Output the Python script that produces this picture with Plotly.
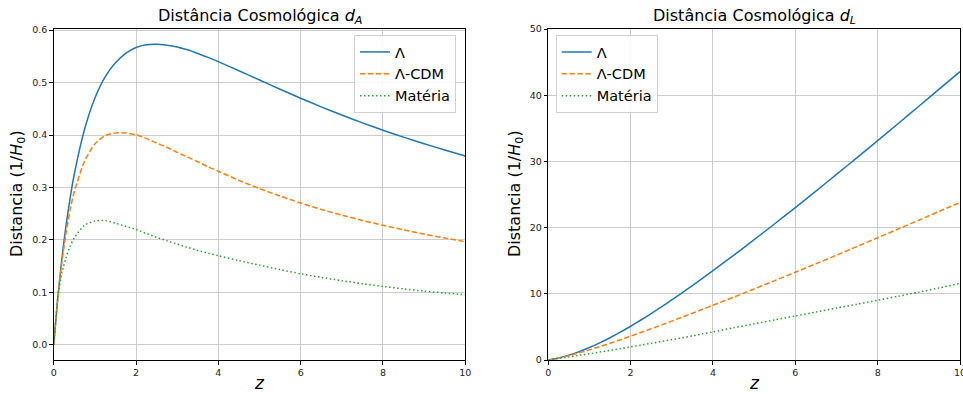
import plotly.graph_objects as go

# ---- data ----
z = [0, 0.1, 0.2, 0.3, 0.4, 0.5, 0.75, 1.0, 1.25, 1.5, 1.75, 2.0, 2.25, 2.5,
     2.75, 3.0, 3.25, 3.5, 3.75, 4.0, 4.5, 5.0, 5.5, 6.0, 6.5, 7.0, 7.5, 8.0,
     8.5, 9.0, 9.5, 10.0]

# angular diameter distance d_A (1/H0)
dA_lambda = [0, 0.0906, 0.1653, 0.2277, 0.2804, 0.3252, 0.411, 0.4702, 0.5108,
             0.5376, 0.5555, 0.5668, 0.5721, 0.5729, 0.5712, 0.5678, 0.5623,
             0.5554, 0.5479, 0.5398, 0.5225, 0.5048, 0.4872, 0.4701, 0.4537,
             0.4380, 0.4232, 0.4091, 0.3959, 0.3834, 0.3715, 0.3600]
dA_lcdm = [0, 0.089, 0.158, 0.213, 0.258, 0.292, 0.350, 0.383, 0.399, 0.404,
           0.404, 0.4004, 0.3936, 0.3847, 0.3766, 0.367, 0.3579, 0.349, 0.3395,
           0.331, 0.3136, 0.298, 0.2837, 0.2704, 0.2583, 0.2474, 0.2373,
           0.2279, 0.2193, 0.2112, 0.2038, 0.1968]
dA_mat = [0, 0.090, 0.138, 0.166, 0.188, 0.204, 0.228, 0.236, 0.237, 0.232,
          0.226, 0.220, 0.2125, 0.205, 0.1985, 0.192, 0.186, 0.180, 0.175,
          0.170, 0.1607, 0.152, 0.1435, 0.1355, 0.1288, 0.1225, 0.1168,
          0.1115, 0.1068, 0.1025, 0.0989, 0.0955]

# luminosity distance d_L (1/H0)
dL_lambda = [0, 0.110, 0.238, 0.385, 0.550, 0.732, 1.259, 1.881, 2.586, 3.36,
             4.20, 5.10, 6.043, 7.02, 8.033, 9.08, 10.156, 11.25, 12.361,
             13.50, 15.81, 18.17, 20.58, 23.03, 25.52, 28.03, 30.57, 33.14,
             35.72, 38.33, 40.95, 43.55]
dL_lcdm = [0, 0.108, 0.228, 0.360, 0.507, 0.657, 1.072, 1.532, 2.02, 2.525,
           3.055, 3.60, 4.157, 4.716, 5.296, 5.872, 6.465, 7.067, 7.660, 8.275,
           9.486, 10.73, 11.99, 13.25, 14.53, 15.83, 17.15, 18.46, 19.79,
           21.12, 22.47, 23.78]
dL_mat = [0, 0.109, 0.199, 0.281, 0.368, 0.459, 0.698, 0.944, 1.20, 1.45,
          1.709, 1.98, 2.245, 2.511, 2.791, 3.072, 3.36, 3.645, 3.948, 4.25,
          4.861, 5.472, 6.063, 6.64, 7.245, 7.84, 8.439, 9.03, 9.639, 10.25,
          10.90, 11.56]

names = ["Λ", "Λ-CDM", "Matéria"]
colors = ["#1f77b4", "#ff7f0e", "#2ca02c"]
dashes = ["solid", "5.5px,2.4px", "1.5px,2.5px"]

W, H = 963, 394
FONT = "DejaVu Sans"

fig = go.Figure()

left_sets = [dA_lambda, dA_lcdm, dA_mat]
right_sets = [dL_lambda, dL_lcdm, dL_mat]
for i in range(3):
    fig.add_trace(go.Scatter(x=z, y=left_sets[i], mode="lines", name=names[i],
                             line=dict(color=colors[i], width=1.5, dash=dashes[i],
                                       shape="spline", smoothing=0.7),
                             xaxis="x", yaxis="y", legend="legend"))
for i in range(3):
    fig.add_trace(go.Scatter(x=z, y=right_sets[i], mode="lines", name=names[i],
                             line=dict(color=colors[i], width=1.5, dash=dashes[i],
                                       shape="spline", smoothing=0.7),
                             xaxis="x2", yaxis="y2", legend="legend2"))

def px(x):
    return x / W

def py(y):
    return 1 - y / H

ydom = [py(360), py(29)]
axis_common = dict(showline=True, mirror=True, linecolor="black", linewidth=1,
                   ticks="outside", ticklen=3.5, tickcolor="black", tickwidth=1,
                   showgrid=True, gridcolor="#cccccc", gridwidth=1.2,
                   zeroline=False, automargin=False, ticklabeloverflow="allow",
                   tickfont=dict(family=FONT, size=9.5, color="#222222"))

legend_common = dict(xanchor="left", yanchor="top",
                     bgcolor="rgba(255,255,255,0.85)", bordercolor="#d0d0d0",
                     borderwidth=1, font=dict(family=FONT, size=14.5, color="black"),
                     itemwidth=30, tracegroupgap=0)

fig.update_layout(
    width=W, height=H,
    margin=dict(l=0, r=0, t=0, b=0),
    paper_bgcolor="white", plot_bgcolor="white",
    font=dict(family=FONT, color="black"),
    xaxis=dict(domain=[px(53.7), px(465.3)], range=[0, 10], dtick=2,
               anchor="y", **axis_common),
    yaxis=dict(domain=ydom, range=[-0.0287, 0.602], dtick=0.1, tickformat=".1f",
               anchor="x", **axis_common),
    xaxis2=dict(domain=[px(548.3), px(960)], range=[0, 10], dtick=2,
                anchor="y2", **axis_common),
    yaxis2=dict(domain=ydom, range=[0, 50], dtick=10,
                anchor="x2", **axis_common),
    legend=dict(x=px(354), y=py(35), **legend_common),
    legend2=dict(x=px(555.7), y=py(35), **legend_common),
    showlegend=True,
)

ann = []
ann.append(dict(text="Distância Cosmológica <i>d<sub>A</sub></i>", x=px(259.5), y=py(17),
                xref="paper", yref="paper", showarrow=False, xanchor="center",
                yanchor="middle", font=dict(family=FONT, size=16, color="black")))
ann.append(dict(text="Distância Cosmológica <i>d<sub>L</sub></i>", x=px(754), y=py(17),
                xref="paper", yref="paper", showarrow=False, xanchor="center",
                yanchor="middle", font=dict(family=FONT, size=16, color="black")))
for xc in (259.5, 754):
    ann.append(dict(text="<i>z</i>", x=px(xc), y=py(383), xref="paper", yref="paper",
                    showarrow=False, xanchor="center", yanchor="middle",
                    font=dict(family=FONT, size=17, color="black")))
for xc in (17, 515):
    ann.append(dict(text="Distancia (1/<i>H</i><sub>0</sub>)", x=px(xc), y=py(194),
                    xref="paper", yref="paper", showarrow=False, textangle=-90,
                    xanchor="center", yanchor="middle",
                    font=dict(family=FONT, size=16, color="black")))
fig.update_layout(annotations=ann)

fig.write_html("out.html")
